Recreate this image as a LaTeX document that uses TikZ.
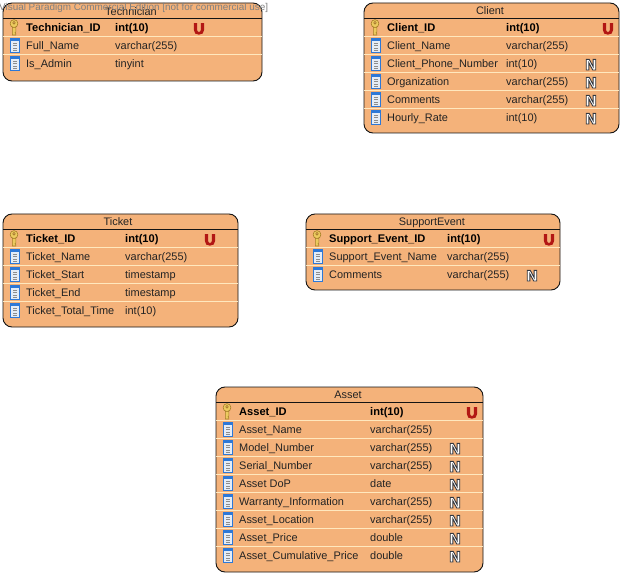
\documentclass[tikz,border=0pt]{standalone}
\usepackage{fontspec}
\setmainfont{Liberation Sans}
\newfontfamily\badgefont{DejaVu Sans}
\definecolor{tablefill}{RGB}{244,178,122}
\definecolor{rowline}{RGB}{255,232,190}
\definecolor{edgeink}{RGB}{20,20,20}
\definecolor{uniquered}{RGB}{178,24,20}
\definecolor{keygold}{RGB}{236,202,95}
\definecolor{keyedge}{RGB}{165,125,40}
\definecolor{colblue}{RGB}{45,120,215}
\definecolor{colbody}{RGB}{228,236,246}
\definecolor{inktext}{RGB}{35,35,35}
\tikzset{
  tablebox/.style={draw=edgeink,line width=0.9pt,fill=tablefill,rounded corners=9pt},
  headline/.style={draw=edgeink,line width=0.7pt},
  rowsep/.style={draw=rowline,line width=0.9pt},
  titletext/.style={font=\fontsize{10.9}{12}\selectfont,text=inktext,inner sep=0pt,anchor=base,yshift=-0.7pt},
  nametext/.style={font=\fontsize{10.95}{12}\selectfont,text=inktext,inner sep=0pt,anchor=base west,yshift=-0.7pt},
  boldtext/.style={font=\fontsize{11.1}{12}\selectfont\bfseries,text=black,inner sep=0pt,anchor=base west,yshift=-0.7pt},
  watermark/.style={font=\fontsize{9.9}{12}\selectfont,text=black!50,inner sep=0pt,anchor=base west},
  ubadge/.style={font=\fontsize{15}{15}\selectfont\bfseries,text=uniquered,inner sep=0pt,anchor=base,yshift=-1pt},
  nbadge/.style={font=\badgefont\fontsize{14.5}{15}\selectfont\bfseries,text=white,inner sep=0pt,anchor=base,yshift=-1pt},
}
% outlined badge letters
\newcommand{\outlinedN}{\special{pdf:code 2 Tr 0.9 w 0.2 0.22 0.25 RG}N\special{pdf:code 0 Tr}}
\newcommand{\outlinedU}{\special{pdf:code 2 Tr 1 w 0.7 0.09 0.08 RG}U\special{pdf:code 0 Tr}}
% key icon at (x,y)
\newcommand{\keyicon}[2]{%
  \fill[keygold,draw=keyedge,line width=0.6pt,even odd rule]
    (#1,#2) ++(0,-3.4) circle[x radius=3.9pt,y radius=4pt] ++(0,-0.8) circle[x radius=1.3pt,y radius=1.4pt];
  \fill[keygold,draw=keyedge,line width=0.6pt]
    (#1-1.7,#2+0.4) -- (#1-1.7,#2+8) -- (#1+1.9,#2+8) -- (#1+1.9,#2+6.6) -- (#1+1,#2+5.8) -- (#1+1.9,#2+4.8) -- (#1+1.9,#2+0.4) -- cycle;
}
% column icon at (x,y)
\newcommand{\colicon}[2]{%
  \fill[colbody,draw=colblue,line width=0.7pt] (#1-4.2,#2-7) rectangle (#1+4.2,#2+7);
  \fill[colblue] (#1-4.5,#2-7.4) rectangle (#1+4.5,#2-3.6);
  \foreach \k in {-1.5,1,3.5,6}{\draw[black!45,line width=0.6pt] (#1-2,#2+\k-0.6) -- (#1+2,#2+\k-0.6);}
}
\begin{document}
\begin{tikzpicture}[x=1pt,y=-1pt]
\useasboundingbox (0,0) rectangle (622,575);
% ---------- Technician
\path[tablebox] (3,3) rectangle (262,81);
\draw[headline] (3,18) -- (262,18);
\draw[rowsep] (3,36.8) -- (262,36.8) (3,54.8) -- (262,54.8);
\keyicon{14}{27}\colicon{15}{45}\colicon{15}{63}
\node[titletext] (techtitle) at (131,14.5) {Technician};
\node[boldtext] (techA) at (26,31) {Technician\_ID};
\node[boldtext] (techAt) at (115,31) {int(10)};
\node[ubadge] (techAu) at (199,33) {\outlinedU};
\node[nametext] (techB) at (26,49) {Full\_Name};
\node[nametext] (techBt) at (115,49) {varchar(255)};
\node[nametext] (techC) at (26,67) {Is\_Admin};
\node[nametext] (techCt) at (115,67) {tinyint};
% ---------- Client
\path[tablebox] (364,3) rectangle (619,133);
\draw[headline] (364,18) -- (619,18);
\draw[rowsep] (364,36.8) -- (619,36.8) (364,54.8) -- (619,54.8) (364,72.8) -- (619,72.8) (364,90.8) -- (619,90.8) (364,108.8) -- (619,108.8);
\keyicon{375}{27}\colicon{376}{45}\colicon{376}{63}\colicon{376}{81}\colicon{376}{99}\colicon{376}{117}
\node[titletext] (clienttitle) at (490,14) {Client};
\node[boldtext] (clA) at (387,31) {Client\_ID};
\node[boldtext] (clAt) at (506,31) {int(10)};
\node[ubadge] (clAu) at (608,33) {\outlinedU};
\node[nametext] (clB) at (387,49) {Client\_Name};
\node[nametext] (clBt) at (506,49) {varchar(255)};
\node[nametext] (clC) at (387,67) {Client\_Phone\_Number};
\node[nametext] (clCt) at (506,67) {int(10)};
\node[nbadge] (clCn) at (591,69) {\outlinedN};
\node[nametext] (clD) at (387,85) {Organization};
\node[nametext] (clDt) at (506,85) {varchar(255)};
\node[nbadge] (clDn) at (591,87) {\outlinedN};
\node[nametext] (clE) at (387,103) {Comments};
\node[nametext] (clEt) at (506,103) {varchar(255)};
\node[nbadge] (clEn) at (591,105) {\outlinedN};
\node[nametext] (clF) at (387,121) {Hourly\_Rate};
\node[nametext] (clFt) at (506,121) {int(10)};
\node[nbadge] (clFn) at (591,123) {\outlinedN};
% ---------- Ticket
\path[tablebox] (3,214) rectangle (238,327);
\draw[headline] (3,229) -- (238,229);
\draw[rowsep] (3,247.8) -- (238,247.8) (3,265.8) -- (238,265.8) (3,283.8) -- (238,283.8) (3,301.8) -- (238,301.8);
\keyicon{14}{238}\colicon{15}{256}\colicon{15}{274}\colicon{15}{292}\colicon{15}{310}
\node[titletext] (tictitle) at (118,225) {Ticket};
\node[boldtext] (ticA) at (26,242) {Ticket\_ID};
\node[boldtext] (ticAt) at (125,242) {int(10)};
\node[ubadge] (ticAu) at (210,244) {\outlinedU};
\node[nametext] (ticB) at (26,260) {Ticket\_Name};
\node[nametext] (ticBt) at (125,260) {varchar(255)};
\node[nametext] (ticC) at (26,278) {Ticket\_Start};
\node[nametext] (ticCt) at (125,278) {timestamp};
\node[nametext] (ticD) at (26,296) {Ticket\_End};
\node[nametext] (ticDt) at (125,296) {timestamp};
\node[nametext] (ticE) at (26,314) {Ticket\_Total\_Time};
\node[nametext] (ticEt) at (125,314) {int(10)};
% ---------- SupportEvent
\path[tablebox] (306,214) rectangle (560,290);
\draw[headline] (306,229) -- (560,229);
\draw[rowsep] (306,247.8) -- (560,247.8) (306,265.8) -- (560,265.8);
\keyicon{317}{238}\colicon{318}{256}\colicon{318}{274}
\node[titletext] (suptitle) at (432,225) {SupportEvent};
\node[boldtext] (supA) at (329,242) {Support\_Event\_ID};
\node[boldtext] (supAt) at (447,242) {int(10)};
\node[ubadge] (supAu) at (549,244) {\outlinedU};
\node[nametext] (supB) at (329,260) {Support\_Event\_Name};
\node[nametext] (supBt) at (447,260) {varchar(255)};
\node[nametext] (supC) at (329,278) {Comments};
\node[nametext] (supCt) at (447,278) {varchar(255)};
\node[nbadge] (supCn) at (532,280) {\outlinedN};
% ---------- Asset
\path[tablebox] (216,387) rectangle (483,572);
\draw[headline] (216,402) -- (483,402);
\draw[rowsep] (216,420.8) -- (483,420.8) (216,438.8) -- (483,438.8) (216,456.8) -- (483,456.8) (216,474.8) -- (483,474.8) (216,492.8) -- (483,492.8) (216,510.8) -- (483,510.8) (216,528.8) -- (483,528.8) (216,546.8) -- (483,546.8);
\keyicon{227}{411}\colicon{228}{429}\colicon{228}{447}\colicon{228}{465}\colicon{228}{483}\colicon{228}{501}\colicon{228}{519}\colicon{228}{537}\colicon{228}{555}
\node[titletext] (asstitle) at (348,398) {Asset};
\node[boldtext] (asA) at (239,415) {Asset\_ID};
\node[boldtext] (asAt) at (370,415) {int(10)};
\node[ubadge] (asAu) at (472,417) {\outlinedU};
\node[nametext] (asB) at (239,433) {Asset\_Name};
\node[nametext] (asBt) at (370,433) {varchar(255)};
\node[nametext] (asC) at (239,451) {Model\_Number};
\node[nametext] (asCt) at (370,451) {varchar(255)};
\node[nbadge] (asCn) at (455,453) {\outlinedN};
\node[nametext] (asD) at (239,469) {Serial\_Number};
\node[nametext] (asDt) at (370,469) {varchar(255)};
\node[nbadge] (asDn) at (455,471) {\outlinedN};
\node[nametext] (asE) at (239,487) {Asset DoP};
\node[nametext] (asEt) at (370,487) {date};
\node[nbadge] (asEn) at (455,489) {\outlinedN};
\node[nametext] (asF) at (239,505) {Warranty\_Information};
\node[nametext] (asFt) at (370,505) {varchar(255)};
\node[nbadge] (asFn) at (455,507) {\outlinedN};
\node[nametext] (asG) at (239,523) {Asset\_Location};
\node[nametext] (asGt) at (370,523) {varchar(255)};
\node[nbadge] (asGn) at (455,525) {\outlinedN};
\node[nametext] (asH) at (239,541) {Asset\_Price};
\node[nametext] (asHt) at (370,541) {double};
\node[nbadge] (asHn) at (455,543) {\outlinedN};
\node[nametext] (asI) at (239,559) {Asset\_Cumulative\_Price};
\node[nametext] (asIt) at (370,559) {double};
\node[nbadge] (asIn) at (455,561) {\outlinedN};
% ---------- watermark
\node[watermark] (wm) at (-1,10.5) {Visual Paradigm Commercial Edition [not for commercial use]};
\end{tikzpicture}
\end{document}
